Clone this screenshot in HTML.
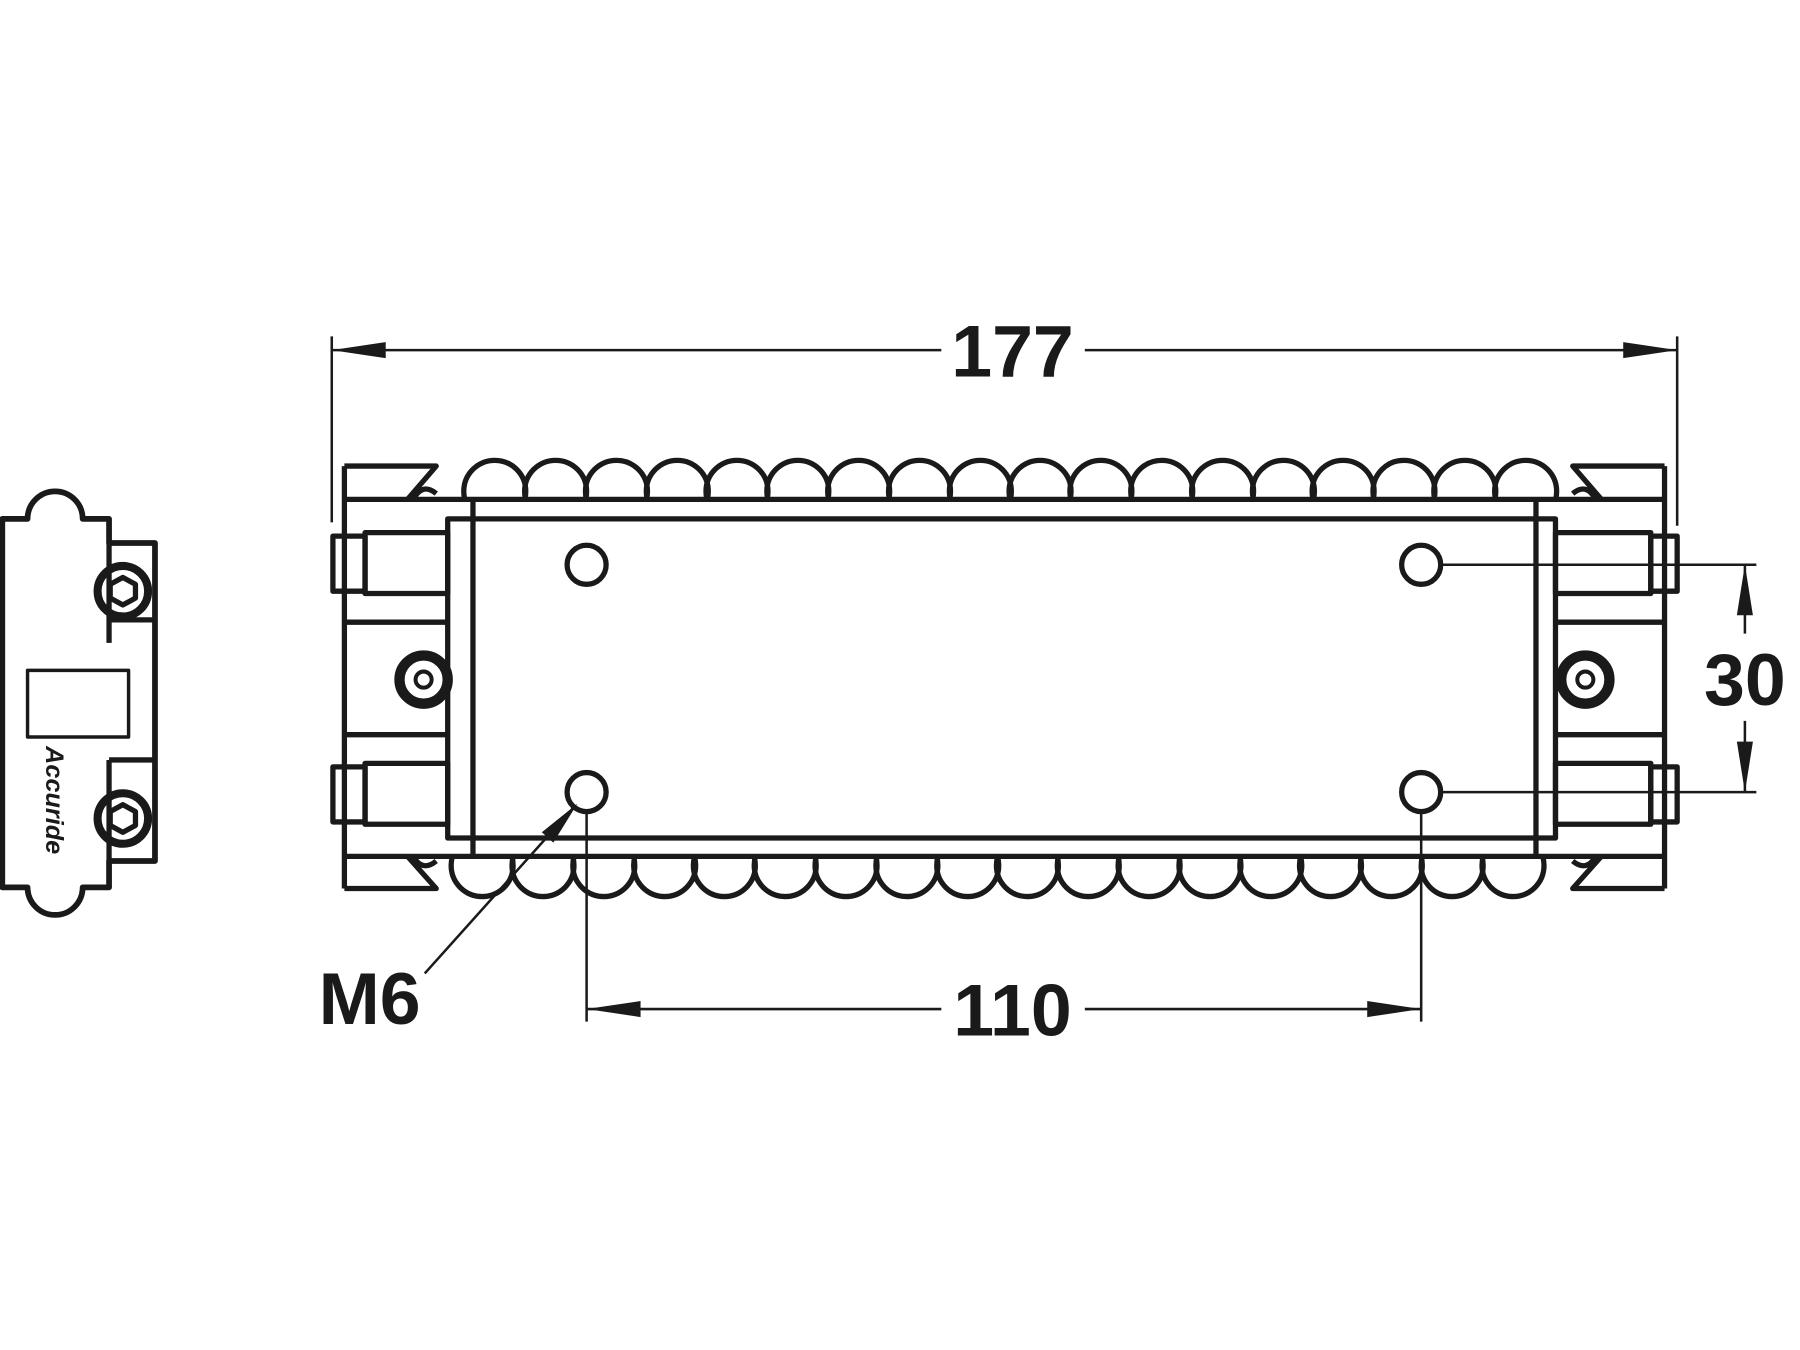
<!DOCTYPE html>
<html><head><style>html,body{margin:0;padding:0;background:#fff}svg{display:block}</style></head>
<body>
<svg width="1800" height="1350" viewBox="0 0 1568 1176" xmlns="http://www.w3.org/2000/svg">
<defs>
<clipPath id="ct"><rect x="380" y="380" width="1000" height="55"/></clipPath>
<clipPath id="cb"><rect x="380" y="746" width="1000" height="50"/></clipPath>
</defs>
<g fill="none" stroke="#1a1a1a" stroke-width="4.6" stroke-linejoin="round">
<g clip-path="url(#ct)">
<circle cx="431" cy="428" r="27"/><circle cx="484" cy="428" r="27"/><circle cx="537" cy="428" r="27"/><circle cx="590" cy="428" r="27"/><circle cx="642" cy="428" r="27"/><circle cx="695" cy="428" r="27"/><circle cx="748" cy="428" r="27"/><circle cx="801" cy="428" r="27"/><circle cx="854" cy="428" r="27"/><circle cx="906" cy="428" r="27"/><circle cx="959" cy="428" r="27"/><circle cx="1012" cy="428" r="27"/><circle cx="1065" cy="428" r="27"/><circle cx="1118" cy="428" r="27"/><circle cx="1170" cy="428" r="27"/><circle cx="1223" cy="428" r="27"/><circle cx="1276" cy="428" r="27"/><circle cx="1329" cy="428" r="27"/>
</g>
<g clip-path="url(#cb)">
<circle cx="420" cy="754" r="27"/><circle cx="473" cy="754" r="27"/><circle cx="526" cy="754" r="27"/><circle cx="579" cy="754" r="27"/><circle cx="631" cy="754" r="27"/><circle cx="684" cy="754" r="27"/><circle cx="737" cy="754" r="27"/><circle cx="790" cy="754" r="27"/><circle cx="843" cy="754" r="27"/><circle cx="895" cy="754" r="27"/><circle cx="948" cy="754" r="27"/><circle cx="1001" cy="754" r="27"/><circle cx="1054" cy="754" r="27"/><circle cx="1107" cy="754" r="27"/><circle cx="1159" cy="754" r="27"/><circle cx="1212" cy="754" r="27"/><circle cx="1265" cy="754" r="27"/><circle cx="1318" cy="754" r="27"/>
</g>
<line x1="300" y1="435" x2="1450" y2="435"/>
<line x1="300" y1="746" x2="1450" y2="746"/>
<line x1="300" y1="406" x2="300" y2="774"/>
<line x1="1450" y1="406" x2="1450" y2="774"/>
<path d="M300 406 H380 L355 435"/>
<path d="M300 774 H380 L355 746"/>
<path d="M1450 406 H1370 L1395 435"/>
<path d="M1450 774 H1370 L1395 746"/>
<path d="M360 435 Q368 420 380 430"/>
<path d="M1390 435 Q1382 420 1370 430"/>
<path d="M360 746 Q368 760 380 750"/>
<path d="M1390 746 Q1382 760 1370 750"/>
<rect x="390" y="452" width="965" height="278"/>
<line x1="412" y1="435" x2="412" y2="746"/>
<line x1="1338" y1="435" x2="1338" y2="746"/>
<path d="M300 542 H390"/><path d="M300 640 H390"/>
<path d="M1450 542 H1355"/><path d="M1450 640 H1355"/>
<rect x="318" y="464" width="72" height="53"/><rect x="290" y="467" width="28" height="48"/>
<rect x="318" y="665" width="72" height="53"/><rect x="290" y="668" width="28" height="48"/>
<rect x="1355" y="464" width="83" height="53"/><rect x="1438" y="467" width="23" height="48"/>
<rect x="1355" y="665" width="83" height="53"/><rect x="1438" y="668" width="23" height="48"/>
<circle cx="369" cy="592" r="21" stroke-width="9"/><circle cx="369" cy="592" r="7" stroke-width="3.5"/>
<circle cx="1381" cy="592" r="21" stroke-width="9"/><circle cx="1381" cy="592" r="7" stroke-width="3.5"/>
<circle cx="511" cy="492" r="17"/><circle cx="1238" cy="492" r="17"/>
<circle cx="511" cy="690" r="17"/><circle cx="1238" cy="690" r="17"/>
<path d="M2 452 H24 A24 24 0 1 1 72 452 H95 V473 H135 V750 H95 V773 H72 A24 24 0 1 1 24 773 H2 Z" stroke-width="5"/>
<line x1="95" y1="473" x2="95" y2="560"/><line x1="95" y1="540" x2="135" y2="540"/>
<line x1="95" y1="662" x2="95" y2="750"/><line x1="95" y1="662" x2="135" y2="662"/>
<circle cx="107" cy="515" r="22" stroke-width="7"/>
<polygon points="107,503 118,509 118,521 107,527 96,521 96,509"/>
<circle cx="107" cy="713" r="22" stroke-width="7"/>
<polygon points="107,701 118,707 118,719 107,725 96,719 96,707"/>
<rect x="24" y="584" width="88" height="58" stroke-width="3"/>
</g>
<text x="0" y="0" transform="translate(40,650) rotate(90)" font-family="Liberation Sans, sans-serif" font-style="italic" font-weight="bold" font-size="22" fill="#1a1a1a">Accuride</text>
<g stroke="#1a1a1a" stroke-width="2.2" fill="none">
<line x1="289" y1="293" x2="289" y2="455"/><line x1="1461" y1="293" x2="1461" y2="458"/>
<line x1="289" y1="305" x2="820" y2="305"/><line x1="945" y1="305" x2="1461" y2="305"/>
<line x1="1255" y1="492" x2="1530" y2="492"/><line x1="1255" y1="690" x2="1530" y2="690"/>
<line x1="1520" y1="492" x2="1520" y2="552"/><line x1="1520" y1="628" x2="1520" y2="690"/>
<line x1="511" y1="707" x2="511" y2="890"/><line x1="1238" y1="707" x2="1238" y2="890"/>
<line x1="511" y1="879" x2="820" y2="879"/><line x1="945" y1="879" x2="1238" y2="879"/>
<line x1="370" y1="848" x2="500" y2="703"/>
</g>
<g fill="#1a1a1a">
<polygon points="289,305 336,298 336,312"/><polygon points="1461,305 1414,298 1414,312"/>
<polygon points="1520,492 1513,536 1527,536"/><polygon points="1520,690 1513,646 1527,646"/>
<polygon points="511,879 558,872 558,886"/><polygon points="1238,879 1191,872 1191,886"/>
<polygon points="503,700 482,734 472,725"/>
</g>
<g font-family="Liberation Sans, sans-serif" font-weight="bold" font-size="64" fill="#1a1a1a" text-anchor="middle">
<text x="882" y="328">177</text>
<text x="882" y="902">110</text>
<text x="1520" y="614">30</text>
<text x="322" y="892">M6</text>
</g>
</svg>
</body></html>
